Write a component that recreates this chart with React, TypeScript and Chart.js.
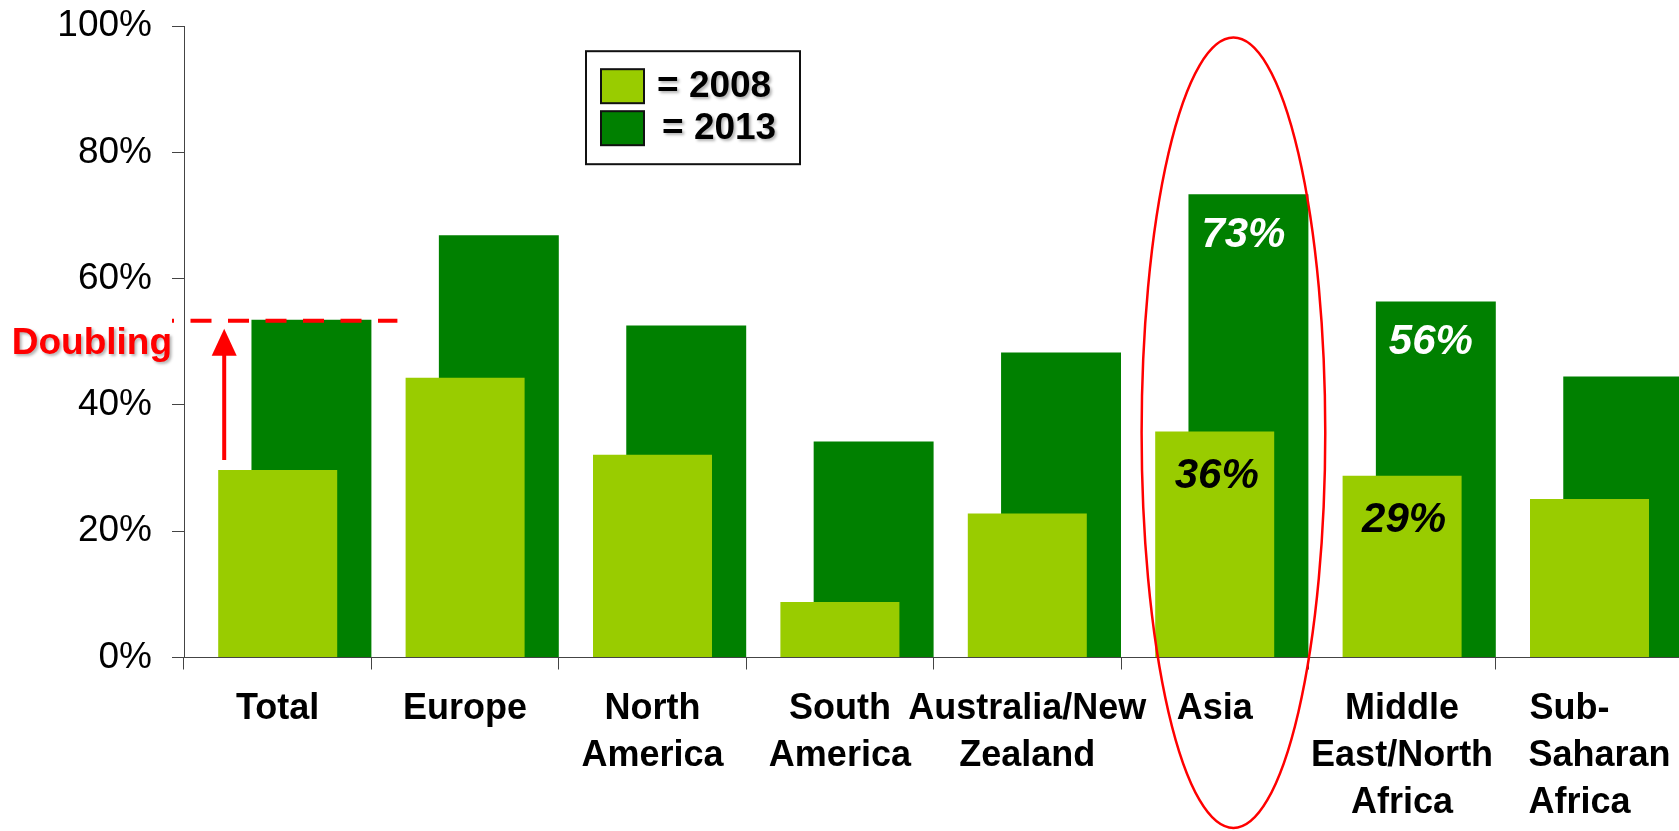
import React, { useEffect, useRef } from 'react';
import { Chart, registerables } from 'chart.js';

Chart.register(...registerables);

// ---- data ----
const categories = [
  'Total',
  'Europe',
  'North\nAmerica',
  'South\nAmerica',
  'Australia/New\nZealand',
  'Asia',
  'Middle\nEast/North\nAfrica',
  'Sub-\nSaharan\nAfrica',
];
const seriesNames = ['2008', '2013'];
const values2008 = [29.7, 44.3, 32.1, 8.8, 22.8, 35.8, 28.8, 25.1];
const values2013 = [53.5, 66.9, 52.6, 34.2, 48.3, 73.4, 56.4, 44.5];
const yTicks = [0, 20, 40, 60, 80, 100];
const labeledCategories = ['Asia', 'Middle\nEast/North\nAfrica'];
const leftAlignedCategories = ['Sub-\nSaharan\nAfrica'];
const highlightCategory = 'Asia';
const doublingCategory = 'Total';
const doublingText = 'Doubling';

// ---- styles ----
const FONT = '"Liberation Sans", Arial, Helvetica, sans-serif';
const LABEL_FONT = `bold 36px ${FONT}`;
const LIGHT = '#99CC00';
const DARK = '#008000';
const RED = '#FF0000';
const AXIS = '#444444';
const SHIFT = 0.18; // horizontal shift of the 2013 bars, in category units
const CANVAS_SHIFT = 16; // canvas is moved up to place the plot area

// left-align a multi-line label by padding shorter lines with spaces
function alignLeft(lines: string[]): string[] {
  const c = document.createElement('canvas').getContext('2d');
  if (!c) return lines;
  c.font = LABEL_FONT;
  const sp = c.measureText(' ').width || 10;
  const widths = lines.map((l) => c.measureText(l).width);
  const maxW = Math.max(...widths);
  return lines.map((l, k) => '  ' + l + ' '.repeat(Math.max(0, Math.round((maxW - widths[k]) / sp))));
}

const annotationPlugin = {
  id: 'annotationPlugin',
  afterDatasetsDraw(chart: any) {
    const ctx = chart.ctx;
    const m0 = chart.getDatasetMeta(0);
    const m1 = chart.getDatasetMeta(1);
    ctx.save();
    ctx.font = `italic bold 42px ${FONT}`;
    ctx.textAlign = 'center';
    ctx.textBaseline = 'middle';
    labeledCategories.forEach((c) => {
      const i = categories.indexOf(c);
      const b0 = m0.data[i];
      const b1 = m1.data[i];
      ctx.fillStyle = '#000000';
      ctx.fillText(Math.round(values2008[i]) + '%', b0.x + 2, b0.y + 45);
      ctx.fillStyle = '#FFFFFF';
      ctx.fillText(Math.round(values2013[i]) + '%', b1.x - 5, b1.y + 41);
    });
    ctx.restore();
  },
  afterDraw(chart: any) {
    const ctx = chart.ctx;
    const area = chart.chartArea;
    const xa = chart.scales.xa;
    const y = chart.scales.y;
    const m0 = chart.getDatasetMeta(0);
    const m1 = chart.getDatasetMeta(1);
    const catW = xa.getPixelForValue(1) - xa.getPixelForValue(0);

    // dashed "doubling" line
    const di = categories.indexOf(doublingCategory);
    const d0 = m0.data[di];
    const d1 = m1.data[di];
    ctx.save();
    ctx.strokeStyle = RED;
    ctx.lineWidth = 4;
    ctx.setLineDash([21, 16.5]);
    ctx.lineDashOffset = 19;
    ctx.beginPath();
    ctx.moveTo(area.left - 12, d1.y + 1);
    ctx.lineTo(d1.x + d1.width / 2 + 26, d1.y + 1);
    ctx.stroke();
    ctx.restore();

    // arrow
    const ax = d0.x - d0.width / 2 + 6;
    const yBottom = d0.y - 10;
    const yTip = d1.y + 9;
    ctx.save();
    ctx.strokeStyle = RED;
    ctx.fillStyle = RED;
    ctx.lineWidth = 4;
    ctx.beginPath();
    ctx.moveTo(ax, yBottom);
    ctx.lineTo(ax, yTip + 25);
    ctx.stroke();
    ctx.beginPath();
    ctx.moveTo(ax, yTip);
    ctx.lineTo(ax - 12.5, yTip + 27);
    ctx.lineTo(ax + 12.5, yTip + 27);
    ctx.closePath();
    ctx.fill();
    ctx.restore();

    // "Doubling" text
    ctx.save();
    ctx.font = `bold 37px ${FONT}`;
    ctx.textAlign = 'right';
    ctx.textBaseline = 'middle';
    ctx.shadowColor = 'rgba(0,0,0,0.3)';
    ctx.shadowOffsetX = 2;
    ctx.shadowOffsetY = 2;
    ctx.shadowBlur = 3;
    ctx.fillStyle = RED;
    ctx.fillText(doublingText, area.left - 12, d1.y + 24);
    ctx.restore();

    // ellipse around the highlighted category
    const hi = categories.indexOf(highlightCategory);
    const cx = xa.getPixelForValue(hi + 0.1);
    const top = y.getPixelForValue(98.2);
    const bottom = y.getPixelForValue(-27);
    ctx.save();
    ctx.strokeStyle = RED;
    ctx.lineWidth = 2.5;
    ctx.beginPath();
    ctx.ellipse(cx, (top + bottom) / 2, catW * 0.49, (bottom - top) / 2, 0, 0, Math.PI * 2);
    ctx.stroke();
    ctx.restore();

    // legend box
    const lx = area.left + 402;
    const ly = area.top + 25;
    const lw = 214;
    const lh = 113;
    ctx.save();
    ctx.fillStyle = '#FFFFFF';
    ctx.fillRect(lx, ly, lw, lh);
    ctx.strokeStyle = '#111111';
    ctx.lineWidth = 2;
    ctx.strokeRect(lx, ly, lw, lh);
    const colors = [LIGHT, DARK];
    const rowY = [ly + 18, ly + 60];
    const textX = [lx + 71, lx + 76];
    seriesNames.forEach((name, k) => {
      ctx.fillStyle = colors[k];
      ctx.fillRect(lx + 15, rowY[k], 43, 34);
      ctx.strokeStyle = '#111111';
      ctx.lineWidth = 2;
      ctx.strokeRect(lx + 15, rowY[k], 43, 34);
      ctx.save();
      ctx.font = `bold 37px ${FONT}`;
      ctx.textAlign = 'left';
      ctx.textBaseline = 'middle';
      ctx.shadowColor = 'rgba(0,0,0,0.3)';
      ctx.shadowOffsetX = 2;
      ctx.shadowOffsetY = 2;
      ctx.shadowBlur = 3;
      ctx.fillStyle = '#000000';
      ctx.fillText('= ' + name, textX[k], rowY[k] + 18);
      ctx.restore();
    });
    ctx.restore();
  },
};

export default function App() {
  const ref = useRef<HTMLCanvasElement | null>(null);

  useEffect(() => {
    if (!ref.current) return;
    const catTicks = (s: any) => {
      s.ticks = categories.map((_, i) => ({ value: i }));
    };
    const chart = new Chart(ref.current, {
      type: 'bar',
      data: {
        labels: categories.map((c) =>
          leftAlignedCategories.includes(c) ? alignLeft(c.split('\n')) : c.split('\n')
        ),
        datasets: [
          {
            label: seriesNames[0],
            data: values2008.map((v, i) => ({ x: i, y: v })),
            xAxisID: 'xa',
            backgroundColor: LIGHT,
            borderWidth: 0,
            grouped: false,
            barPercentage: 0.635,
            categoryPercentage: 1,
          },
          {
            label: seriesNames[1],
            data: values2013.map((v, i) => ({ x: i, y: v })),
            xAxisID: 'xb',
            backgroundColor: DARK,
            borderWidth: 0,
            grouped: false,
            barPercentage: 0.64,
            categoryPercentage: 1,
          },
        ] as any,
      },
      options: {
        responsive: false,
        animation: false,
        layout: { padding: { left: 0, right: 16.8, top: 11, bottom: 0 } },
        plugins: {
          legend: { display: false },
          tooltip: { enabled: false },
          title: { display: false },
        },
        scales: {
          x: {
            type: 'category',
            position: 'bottom',
            offset: true,
            grid: {
              offset: true,
              drawOnChartArea: false,
              tickLength: 12,
              color: AXIS,
              lineWidth: 1,
            },
            border: { display: true, color: AXIS, width: 1 },
            ticks: {
              color: '#000000',
              font: { family: FONT, size: 36, weight: 'bold', lineHeight: 1.306 },
              padding: 16,
              maxRotation: 0,
              minRotation: 0,
              autoSkip: false,
            },
            afterFit: (s: any) => {
              s.height = 173.5;
            },
          },
          xa: {
            type: 'linear',
            display: false,
            offset: false,
            grid: { offset: false },
            min: -0.5,
            max: categories.length - 0.5,
            afterBuildTicks: catTicks,
          },
          xb: {
            type: 'linear',
            display: false,
            offset: false,
            grid: { offset: false },
            min: -0.5 - SHIFT,
            max: categories.length - 0.5 - SHIFT,
            afterBuildTicks: catTicks,
          },
          y: {
            type: 'linear',
            min: yTicks[0],
            max: yTicks[yTicks.length - 1],
            afterBuildTicks: (s: any) => {
              s.ticks = yTicks.map((v) => ({ value: v }));
            },
            ticks: {
              color: '#000000',
              font: { family: FONT, size: 37 },
              padding: 20,
              callback: (v: any) => v + '%',
            },
            grid: { drawOnChartArea: false, tickLength: 12, color: AXIS, lineWidth: 1 },
            border: { display: true, color: AXIS, width: 1 },
            afterFit: (s: any) => {
              s.width = 184;
            },
          },
        } as any,
      },
      plugins: [annotationPlugin],
    });
    return () => chart.destroy();
  }, []);

  return (
    <div
      style={{
        position: 'fixed',
        left: 0,
        top: 0,
        width: 1679,
        height: 831,
        overflow: 'hidden',
        background: '#ffffff',
      }}
    >
      <canvas
        ref={ref}
        width={1700}
        height={831 + CANVAS_SHIFT}
        style={{ display: 'block', width: 1700, height: 831 + CANVAS_SHIFT, marginTop: -CANVAS_SHIFT }}
      />
    </div>
  );
}
